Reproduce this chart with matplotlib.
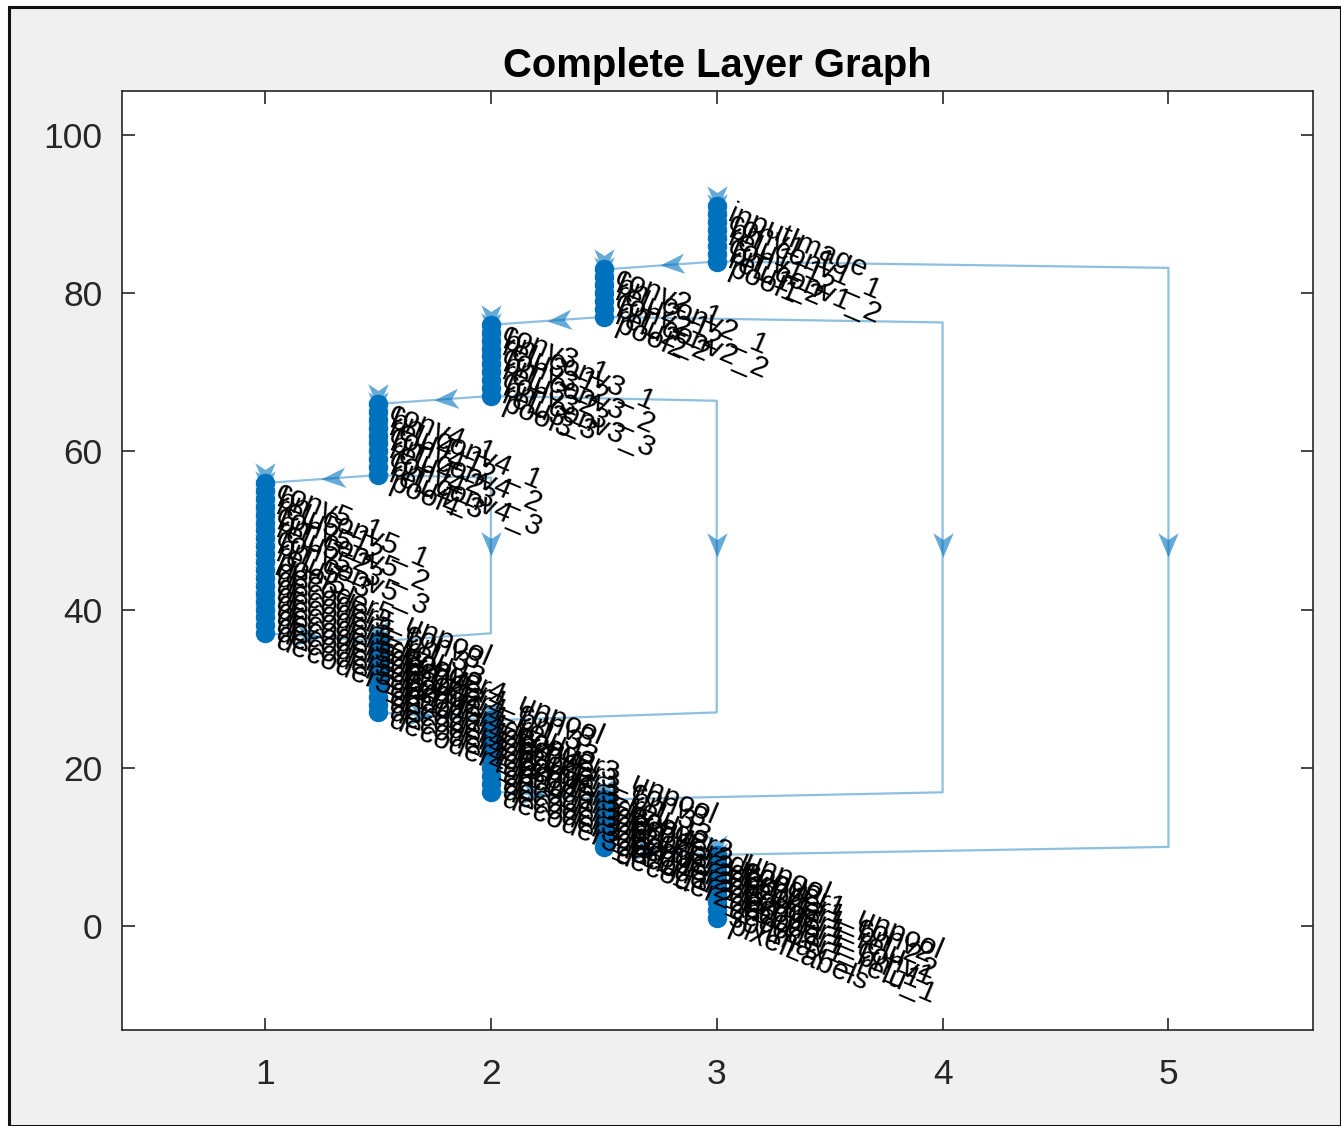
import numpy as np
import matplotlib.pyplot as plt
from matplotlib.markers import MarkerStyle
from matplotlib.path import Path
from matplotlib.transforms import Affine2D
from matplotlib.patches import Rectangle

plt.rcParams['font.family'] = ['Liberation Sans', 'DejaVu Sans']

# layer names in graph order (SegNet, VGG16 encoder)
layers = [
    'inputImage',
    'conv1_1', 'bn_conv1_1', 'relu1_1', 'conv1_2', 'bn_conv1_2', 'relu1_2', 'pool1',
    'conv2_1', 'bn_conv2_1', 'relu2_1', 'conv2_2', 'bn_conv2_2', 'relu2_2', 'pool2',
    'conv3_1', 'bn_conv3_1', 'relu3_1', 'conv3_2', 'bn_conv3_2', 'relu3_2',
    'conv3_3', 'bn_conv3_3', 'relu3_3', 'pool3',
    'conv4_1', 'bn_conv4_1', 'relu4_1', 'conv4_2', 'bn_conv4_2', 'relu4_2',
    'conv4_3', 'bn_conv4_3', 'relu4_3', 'pool4',
    'conv5_1', 'bn_conv5_1', 'relu5_1', 'conv5_2', 'bn_conv5_2', 'relu5_2',
    'conv5_3', 'bn_conv5_3', 'relu5_3', 'pool5',
    'decoder5_unpool', 'decoder5_conv3', 'decoder5_bn_3', 'decoder5_relu_3',
    'decoder5_conv2', 'decoder5_bn_2', 'decoder5_relu_2',
    'decoder5_conv1', 'decoder5_bn_1', 'decoder5_relu_1',
    'decoder4_unpool', 'decoder4_conv3', 'decoder4_bn_3', 'decoder4_relu_3',
    'decoder4_conv2', 'decoder4_bn_2', 'decoder4_relu_2',
    'decoder4_conv1', 'decoder4_bn_1', 'decoder4_relu_1',
    'decoder3_unpool', 'decoder3_conv3', 'decoder3_bn_3', 'decoder3_relu_3',
    'decoder3_conv2', 'decoder3_bn_2', 'decoder3_relu_2',
    'decoder3_conv1', 'decoder3_bn_1', 'decoder3_relu_1',
    'decoder2_unpool', 'decoder2_conv2', 'decoder2_bn_2', 'decoder2_relu_2',
    'decoder2_conv1', 'decoder2_bn_1', 'decoder2_relu_1',
    'decoder1_unpool', 'decoder1_conv2', 'decoder1_bn_2', 'decoder1_relu_2',
    'decoder1_conv1', 'decoder1_bn_1', 'decoder1_relu_1',
    'softmax', 'pixelLabels',
]

# column (x) of each block of layers, and block sizes
block_x = [3, 2.5, 2, 1.5, 1, 1.5, 2, 2.5, 3]
block_n = [8, 7, 10, 10, 20, 10, 10, 7, 9]

# skip connections: pool -> unpool, routed through a side column
skips = [
    ('pool1', 'decoder1_unpool', 5, 83.2, 10.0),
    ('pool2', 'decoder2_unpool', 4, 76.3, 16.9),
    ('pool3', 'decoder3_unpool', 3, 66.4, 27.0),
    ('pool4', 'decoder4_unpool', 2, 56.7, 37.0),
]

xs = np.repeat(block_x, block_n).astype(float)
ys = np.arange(len(layers), 0, -1).astype(float)
idx = {n: i for i, n in enumerate(layers)}

edge_c = '#0072BD'
fig = plt.figure(figsize=(13.41, 11.26), dpi=100)
fig.patch.set_facecolor('white')
fig.add_artist(Rectangle((9 / 1341, 0), 1 - 9 / 1341, 1 - 7 / 1126,
                         transform=fig.transFigure, facecolor='#f0f0f0',
                         edgecolor='#111111', linewidth=2.2, zorder=-10))
ax = fig.add_axes([122 / 1341, 1 - 1030 / 1126, (1313 - 122) / 1341, (1030 - 91) / 1126])
ax.set_xlim(0.367, 5.64)
ax.set_ylim(-13.15, 105.56)

# edge paths
paths = []
for i in range(len(layers) - 1):
    paths.append([(xs[i], ys[i]), (xs[i + 1], ys[i + 1])])
for a, b, cx, ytop, ybot in skips:
    ia, ib = idx[a], idx[b]
    paths.append([(xs[ia], ys[ia]), (cx, ytop), (cx, ybot), (xs[ib], ys[ib])])

chev = Path([(0, 0), (-1, 0.42), (-0.72, 0), (-1, -0.42), (0, 0)],
            [Path.MOVETO, Path.LINETO, Path.LINETO, Path.LINETO, Path.CLOSEPOLY])

fig.canvas.draw()
tr = ax.transData
for p in paths:
    p = np.array(p)
    ax.plot(p[:, 0], p[:, 1], color=edge_c, alpha=0.45, lw=1.6, zorder=1)
    d = tr.transform(p)
    seg = np.hypot(*np.diff(d, axis=0).T)
    half = seg.sum() / 2
    cum = np.concatenate([[0], np.cumsum(seg)])
    k = np.searchsorted(cum, half) - 1
    k = max(0, min(k, len(seg) - 1))
    t = (half - cum[k]) / seg[k]
    mid = d[k] + t * (d[k + 1] - d[k])
    ang = np.degrees(np.arctan2(*(d[k + 1] - d[k])[::-1]))
    mx, my = tr.inverted().transform(mid)
    m = MarkerStyle(chev, transform=Affine2D().rotate_deg(ang))
    ax.plot([mx], [my], marker=m, markersize=35, color=edge_c, alpha=0.6,
            markeredgewidth=0, linestyle='none', zorder=1)

ax.plot(xs, ys, 'o', color='#0072BD', markersize=14, markeredgewidth=0,
        linestyle='none', zorder=3)

for x, y, name in zip(xs, ys, layers):
    ax.annotate(name, (x, y), xytext=(9, -5), textcoords='offset points',
                rotation=-23, rotation_mode='anchor', ha='left', va='center',
                fontsize=21.5, color='black', zorder=4)

ax.set_xticks([1, 2, 3, 4, 5])
ax.set_yticks([0, 20, 40, 60, 80, 100])
ax.tick_params(direction='in', length=9, width=1.2, top=True, right=True,
               labelsize=25.5, colors='#262626', pad=14)
ax.tick_params(axis='x', pad=20)
for s in ax.spines.values():
    s.set_color('#262626')
    s.set_linewidth(1.2)
ax.set_title('Complete Layer Graph', fontsize=28.8, fontweight='bold', pad=10)

fig.savefig('out.png', dpi=100, facecolor=fig.get_facecolor())
